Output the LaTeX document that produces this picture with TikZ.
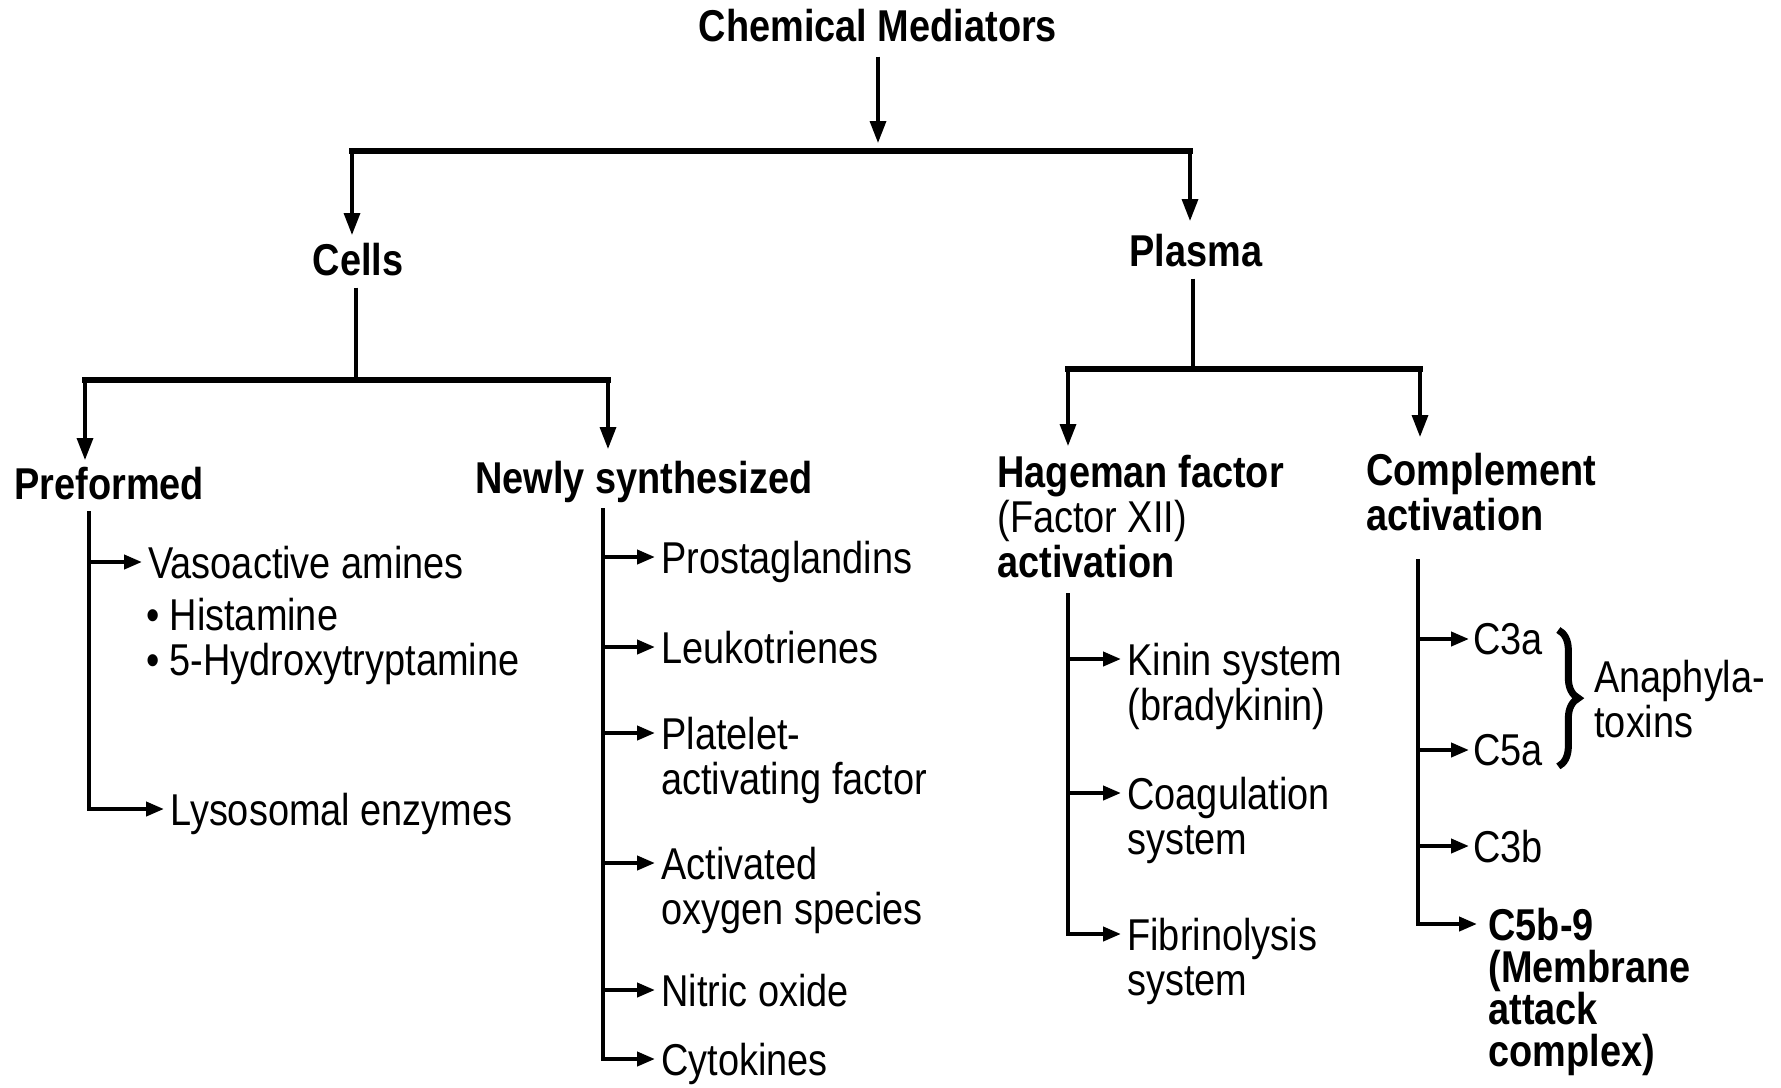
\documentclass[tikz,border=0pt]{standalone}
\usepackage{fontspec}
\setmainfont{Liberation Sans}[FakeStretch=0.85]
\usetikzlibrary{arrows.meta,decorations.pathreplacing,calc}

\tikzset{
  head/.style={font=\bfseries\fontsize{22.3}{22.5}\selectfont, inner sep=0pt, align=left},
  item/.style={font=\fontsize{22.3}{22.5}\selectfont, inner sep=0pt, align=left, anchor=north west},
  arr/.style={-{Triangle[length=11pt,width=8pt]}, line width=1.7pt},
  sarr/.style={-{Triangle[length=9pt,width=7pt]}, line width=2pt, shorten >=3pt},
  bar/.style={line width=3pt, line cap=rect},
  stem/.style={line width=2pt},
  bracket/.style={decorate, decoration={brace, amplitude=10pt}, line width=3.5pt},
}

\begin{document}
\begin{tikzpicture}[x=0.5pt,y=0.5pt,yscale=-1,xscale=1]
\path[use as bounding box] (0,0) rectangle (1781,1087);

% Text Node
\node[head, anchor=north] (chem) at (878,9) {Chemical Mediators};
% Text Node
\node[head, anchor=north] (cells) at (358,243) {Cells};
% Text Node
\node[head, anchor=north] (plasma) at (1196,234) {Plasma};
% Text Node
\node[head, anchor=north west] (pre) at (14,467) {Preformed};
% Text Node
\node[head, anchor=north west] (newly) at (475,461) {Newly synthesized};
% Text Node
\node[head, anchor=north west] (hag) at (997,455) {Hageman factor\\{\mdseries(Factor XII)}\\activation};
% Text Node
\node[head, anchor=north west] (comp) at (1366,453) {Complement\\activation};

% Text Node
\node[item] (vaso) at (148,546) {Vasoactive amines};
\node[item] (amines) at (146,598) {•\hspace{5pt}Histamine\\•\hspace{5pt}5-Hydroxytryptamine};
\node[item] (lyso) at (170,793) {Lysosomal enzymes};
% Text Node
\node[item] (prost) at (661,541) {Prostaglandins};
\node[item] (leuko) at (661,631) {Leukotrienes};
\node[item] (paf) at (661,717) {Platelet-\\activating factor};
\node[item] (aos) at (661,847) {Activated\\oxygen species};
\node[item] (nitric) at (661,974) {Nitric oxide};
\node[item] (cyto) at (661,1043) {Cytokines};
% Text Node
\node[item] (kinin) at (1127,643) {Kinin system\\(bradykinin)};
\node[item] (coag) at (1127,777) {Coagulation\\system};
\node[item] (fibrin) at (1127,918) {Fibrinolysis\\system};
% Text Node
\node[item] (c3a) at (1473,623) {C3a};
\node[item] (c5a) at (1473,734) {C5a};
\node[item] (c3b) at (1473,830) {C3b};
\node[head, anchor=north west, font=\bfseries\fontsize{22.3}{21}\selectfont] (c5b) at (1488,908) {C5b-9\\(Membrane\\attack\\complex)};
\node[item] (anaph) at (1594,660) {Anaphyla-\\toxins};

% first line of each item
\foreach \n in {vaso,lyso,prost,leuko,paf,aos,nitric,cyto,kinin,coag,fibrin,c3a,c5a,c3b,c5b}
  \coordinate (\n-in) at ($(\n.north west)+(0,16)$);

%Straight Lines: top level
\coordinate (b1) at (878,151);
\coordinate (b1l) at (352,151);
\coordinate (b1r) at (1190,151);
\draw[arr, shorten <=7pt, shorten >=4pt] (chem.south) -- (b1);
\draw[bar] (b1l) -- (b1r);
\draw[arr, shorten >=4pt] (b1l) -- (b1l |- cells.north);
\draw[arr, shorten >=6.5pt] (b1r) -- (b1r |- plasma.north);

%Straight Lines: cells
\coordinate (b2) at (356,380);
\coordinate (b2l) at (85,380);
\coordinate (b2r) at (608,380);
\draw[stem, shorten <=5.5pt] (cells.south -| b2) -- (b2);
\draw[bar] (b2l) -- (b2r);
\draw[arr, shorten >=3.5pt] (b2l) -- (b2l |- pre.north);
\draw[arr, shorten >=6pt] (b2r) -- (b2r |- newly.north);

%Straight Lines: plasma
\coordinate (b3) at (1193,369);
\coordinate (b3l) at (1068,369);
\coordinate (b3r) at (1420,369);
\draw[stem, shorten <=5.5pt] (plasma.south -| b3) -- (b3);
\draw[bar] (b3l) -- (b3r);
\draw[arr, shorten >=4.5pt] (b3l) -- (b3l |- hag.north);
\draw[arr, shorten >=8pt] (b3r) -- (b3r |- comp.north);

%Branches
\coordinate (s1) at (89,511);
\draw[sarr] (s1) |- (lyso-in);
\draw[sarr] (s1 |- vaso-in) -- (vaso-in);

\coordinate (s2) at (603,508);
\draw[sarr] (s2) |- (cyto-in);
\foreach \n in {prost,leuko,paf,aos,nitric}
  \draw[sarr] (s2 |- \n-in) -- (\n-in);

\coordinate (s3) at (1068,593);
\draw[sarr] (s3) |- (fibrin-in);
\foreach \n in {kinin,coag}
  \draw[sarr] (s3 |- \n-in) -- (\n-in);

\coordinate (s4) at (1418,559);
\draw[sarr, shorten >=5.5pt] (s4) |- (c5b-in);
\foreach \n in {c3a,c5a,c3b}
  \draw[sarr, shorten >=2pt] (s4 |- \n-in) -- (\n-in);

% Brace
\draw[bracket] ($(c3a.north east)+(15,7)$) -- ($(c5a.south east)+(15,0)$);

\end{tikzpicture}
\end{document}
